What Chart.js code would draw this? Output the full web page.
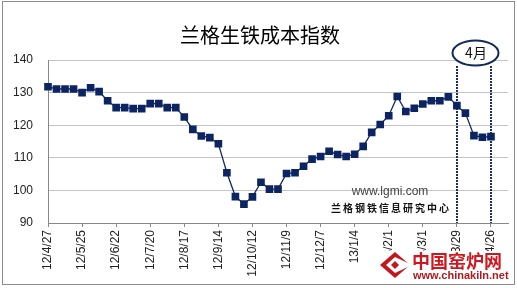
<!DOCTYPE html>
<html><head><meta charset="utf-8">
<script src="https://cdn.jsdelivr.net/npm/chart.js@4/dist/chart.umd.min.js"></script>
<style>html,body{margin:0;padding:0;background:#fff}#wrap{width:517px;height:288px}</style>
</head><body><div id="wrap"><canvas id="c" width="517" height="288"></canvas></div>
<script>
const categories = ['12/4/27','12/5/4','12/5/11','12/5/18','12/5/25','12/6/1','12/6/8','12/6/15','12/6/22','12/6/29',
  '12/7/6','12/7/13','12/7/20','12/7/27','12/8/3','12/8/10','12/8/17','12/8/24','12/8/31','12/9/7',
  '12/9/14','12/9/21','12/9/28','12/10/5','12/10/12','12/10/19','12/10/26','12/11/2','12/11/9','12/11/16',
  '12/11/23','12/11/30','12/12/7','12/12/14','12/12/21','12/12/28','13/1/4','13/1/11','13/1/18','13/1/25',
  '13/2/1','13/2/8','13/2/15','13/2/22','13/3/1','13/3/8','13/3/15','13/3/22','13/3/29','13/4/5',
  '13/4/12','13/4/19','13/4/26','13/5/3','13/5/10'];
const costIndex = [131.8,131.1,131.1,131.1,130.0,131.5,130.3,127.5,125.4,125.4,
  125.1,125.1,126.6,126.6,125.4,125.4,122.5,118.7,116.7,116.2,
  114.3,105.4,98.1,95.8,98.0,102.5,100.4,100.4,105.2,105.4,
  107.4,109.6,110.4,112.0,111.0,110.4,111.1,113.5,117.8,120.2,
  122.9,128.8,124.2,125.2,126.5,127.5,127.5,128.7,126.0,123.7,
  116.8,116.3,116.5];
const tickLabels = ['12/4/27','12/5/25','12/6/22','12/7/20','12/8/17','12/9/14','12/10/12','12/11/9','12/12/7',
  '13/1/4','13/2/1','13/3/1','13/3/29','13/4/26'];
const yTicks = [90,100,110,120,130,140];
const titleText = '兰格生铁成本指数';
const monthMarker = '4月';
const monthRange = ['13/3/29','13/4/26'];
const sourceSite = 'www.lgmi.com';
const sourceName = '兰格钢铁信息研究中心';
const logoName = '中国窑炉网';
const logoSite = 'www.chinakiln.net';

const navy = '#0c2462';

const overlay = {
  id: 'overlay',
  beforeDatasetsDraw(chart) {
    const ctx = chart.ctx, xs = chart.scales.x, area = chart.chartArea;
    ctx.save();
    ctx.strokeStyle = '#1a2f66';
    ctx.lineWidth = 2;
    ctx.setLineDash([2, 1]);
    monthRange.forEach(lab => {
      const x = Math.round(xs.getPixelForValue(categories.indexOf(lab)));
      ctx.beginPath();
      ctx.moveTo(x, 66);
      ctx.lineTo(x, area.bottom);
      ctx.stroke();
    });
    ctx.restore();
  },
  afterDraw(chart) {
    const ctx = chart.ctx;
    ctx.save();
    // outer border
    ctx.strokeStyle = '#8c8c8c';
    ctx.lineWidth = 1;
    ctx.strokeRect(2.5, 1.5, 512, 283);
    // ellipse
    ctx.beginPath();
    ctx.ellipse(475.5, 53, 23, 12.5, 0, 0, Math.PI * 2);
    ctx.fillStyle = '#fff';
    ctx.fill();
    ctx.strokeStyle = '#112a5e';
    ctx.lineWidth = 2;
    ctx.stroke();
    ctx.fillStyle = '#111';
    ctx.font = '14px "Noto Sans CJK SC"';
    ctx.textAlign = 'center';
    ctx.textBaseline = 'middle';
    ctx.fillText(monthMarker, 476, 53);
    // source watermark
    ctx.fillStyle = '#444';
    ctx.font = '12px "Liberation Sans", Arial';
    ctx.fillText(sourceSite, 390, 192);
    ctx.fillStyle = '#111';
    ctx.font = 'bold 10px "Noto Sans CJK SC"';
    ctx.letterSpacing = '2px';
    ctx.fillText(sourceName, 391, 208);
    ctx.letterSpacing = '0px';
    // logo
    ctx.fillStyle = '#fff';
    ctx.fillRect(377, 251, 133, 30);
    const cx = 395, cy = 265;
    ctx.fillStyle = '#c4161c';
    ctx.beginPath();
    ctx.moveTo(cx - 15, cy); ctx.lineTo(cx, cy - 13); ctx.lineTo(cx + 15, cy); ctx.lineTo(cx, cy + 13); ctx.closePath();
    ctx.fill();
    ctx.fillStyle = '#fff';
    ctx.beginPath();
    ctx.moveTo(cx - 9, cy); ctx.lineTo(cx, cy - 8); ctx.lineTo(cx + 15, cy - 1); ctx.lineTo(cx + 15, cy + 1); ctx.lineTo(cx, cy + 8); ctx.closePath();
    ctx.fill();
    ctx.fillStyle = '#c4161c';
    ctx.beginPath();
    ctx.moveTo(cx - 4, cy); ctx.lineTo(cx, cy - 4); ctx.lineTo(cx + 4, cy); ctx.lineTo(cx, cy + 4); ctx.closePath();
    ctx.fill();
    ctx.textAlign = 'left';
    ctx.textBaseline = 'alphabetic';
    ctx.fillStyle = '#d0161e';
    ctx.font = 'bold 18px "Noto Sans CJK SC"';
    ctx.fillText(logoName, 412, 268);
    ctx.fillStyle = '#b3181d';
    ctx.font = 'bold 11px "Liberation Sans", Arial';
    ctx.fillText(logoSite, 413, 279);
    ctx.restore();
  }
};

new Chart(document.getElementById('c'), {
  type: 'line',
  data: {
    labels: categories,
    datasets: [{
      label: titleText,
      data: costIndex,
      borderColor: '#102a60',
      borderWidth: 1.3,
      tension: 0,
      pointStyle: 'rect',
      pointRadius: 5.4,
      pointHoverRadius: 5.4,
      pointBackgroundColor: navy,
      pointBorderWidth: 0
    }]
  },
  options: {
    responsive: false,
    animation: false,
    devicePixelRatio: 1,
    layout: { padding: { top: 0, left: 12, right: 9, bottom: 0 } },
    plugins: {
      legend: { display: false },
      tooltip: { enabled: false },
      title: {
        display: true,
        text: titleText,
        color: '#000',
        font: { family: '"Noto Sans CJK SC"', size: 20, weight: 'normal', lineHeight: 1.2 },
        padding: { top: 23.5, bottom: 12.5 }
      }
    },
    scales: {
      x: {
        offset: false,
        grid: { drawOnChartArea: false, color: '#888', tickLength: 4, lineWidth: 1 },
        border: { color: '#888', width: 1 },
        ticks: {
          autoSkip: false, minRotation: 90, maxRotation: 90, padding: 3,
          color: '#222', font: { family: '"Liberation Sans", Arial', size: 12 },
          callback: function(v, i) { const l = categories[i]; return tickLabels.includes(l) ? l : null; }
        },
        afterFit: s => { s.height = 65; }
      },
      y: {
        min: 90, max: 140,
        afterBuildTicks: s => { s.ticks = yTicks.map(v => ({ value: v })); },
        grid: { color: '#c4c4c4', drawTicks: false, lineWidth: 1 },
        border: { color: '#888', width: 1 },
        ticks: { padding: 15, color: '#222', font: { family: '"Liberation Sans", Arial', size: 12 } },
        afterFit: s => { s.width = 36; }
      }
    }
  },
  plugins: [overlay]
});
</script>
</body></html>
